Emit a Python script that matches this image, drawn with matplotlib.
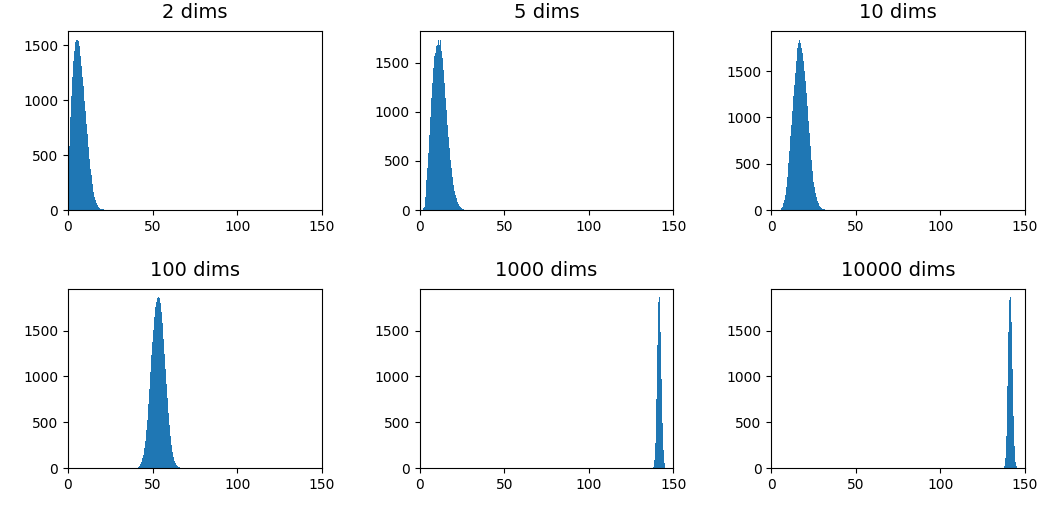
import numpy as np
import matplotlib
matplotlib.use("Agg")
import matplotlib.pyplot as plt

# histogram counts, one list per panel
bin_width = 0.59

titles = ["2 dims", "5 dims", "10 dims", "100 dims", "1000 dims", "10000 dims"]
starts = [0.0, 1.77, 5.53, 40.9, 137.8, 137.7]

counts_2 = [355, 578, 843, 1040, 1205, 1355, 1445, 1530, 1545, 1550, 1540, 1490,
            1400, 1310, 1205, 1130, 994, 904, 783, 693, 572, 467, 376, 316, 241,
            166, 120, 90, 66, 45, 30, 18, 12, 9, 7, 5, 4, 3]
counts_5 = [17, 34, 136, 306, 425, 578, 765, 952, 1139, 1292, 1445, 1565, 1600,
            1667, 1684, 1738, 1684, 1738, 1616, 1548, 1429, 1292, 1139, 1020, 867,
            748, 629, 510, 425, 340, 255, 194, 153, 119, 85, 61, 44, 27, 17, 12, 8, 5]
counts_10 = [18, 36, 72, 108, 163, 253, 361, 506, 632, 795, 922, 1066, 1229, 1355,
             1482, 1608, 1753, 1807, 1841, 1807, 1753, 1699, 1608, 1500, 1391, 1265,
             1120, 958, 831, 687, 542, 416, 307, 253, 188, 145, 101, 72, 47, 36, 25,
             15, 10, 6]
counts_100 = [4, 15, 26, 44, 70, 107, 143, 217, 290, 419, 529, 695, 860, 1044, 1228,
              1375, 1504, 1651, 1761, 1816, 1853, 1860, 1853, 1798, 1706, 1577, 1412,
              1246, 1081, 915, 768, 603, 474, 346, 254, 180, 125, 81, 51, 33, 22, 14,
              8, 4]
counts_1000 = [15, 88, 272, 750, 1338, 1816, 1860, 1485, 970, 493, 199, 51]
counts_10000 = [22, 107, 346, 897, 1485, 1835, 1860, 1596, 1081, 566, 235, 70, 22]

all_counts = [counts_2, counts_5, counts_10, counts_100, counts_1000, counts_10000]

fig, axes = plt.subplots(2, 3, figsize=(10.54, 5.07), dpi=100)
plt.subplots_adjust(left=0.0645, right=0.9725, top=0.9389, bottom=0.0769,
                    wspace=0.386, hspace=0.441)

for ax, title, start, counts in zip(axes.flat, titles, starts, all_counts):
    counts = np.array(counts, dtype=float)
    edges = start + bin_width * np.arange(len(counts) + 1)
    ax.hist(edges[:-1], bins=edges, weights=counts, color="#1f77b4")
    ax.set_xlim(0, 150)
    ax.set_xticks([0, 50, 100, 150])
    ax.set_title(title, fontsize=14, pad=9)

fig.savefig("out.png", dpi=100)
